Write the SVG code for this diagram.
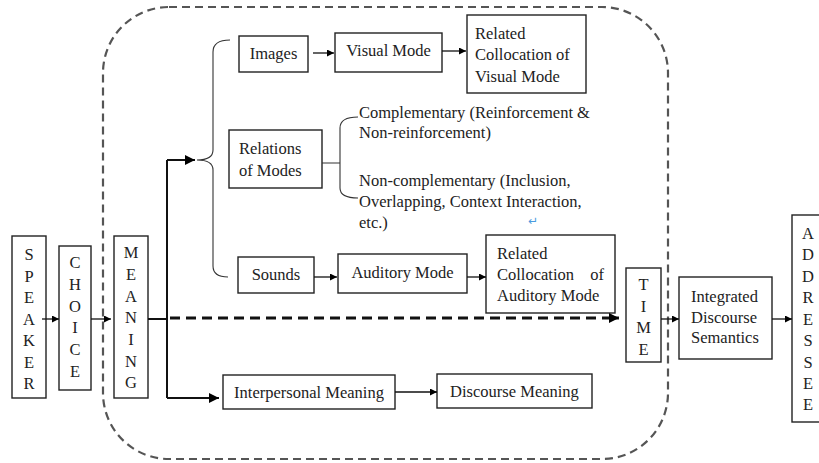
<svg xmlns="http://www.w3.org/2000/svg" width="819" height="463" viewBox="0 0 819 463" font-family="'Liberation Serif', 'DejaVu Serif', serif">
<defs>
<marker id="ah" viewBox="0 0 10 10" refX="10" refY="5" markerWidth="9" markerHeight="7" markerUnits="userSpaceOnUse" orient="auto"><path d="M0,0 L10,5 L0,10 z" fill="#000"/></marker>
<marker id="ahb" viewBox="0 0 10 10" refX="10" refY="5" markerWidth="12" markerHeight="10" markerUnits="userSpaceOnUse" orient="auto"><path d="M0,0 L10,5 L0,10 z" fill="#000"/></marker>
</defs>
<style>
.box{fill:#fff;stroke:#222;stroke-width:1.4}
text{font-family:'Liberation Serif','DejaVu Serif',serif;font-size:16.5px;fill:#222}
.c{text-anchor:middle}
.ln{fill:none;stroke:#111;stroke-width:1.3}
.th{fill:none;stroke:#111;stroke-width:2}
.br{fill:none;stroke:#333;stroke-width:1.1}
</style>
<rect x="103" y="7" width="565" height="452" rx="66" ry="66" fill="none" stroke="#555" stroke-width="2.2" stroke-dasharray="8 5"/>

<g id="speaker"><rect class="box" x="12" y="236" width="34" height="162"/>
<text class="c" x="29" y="260">S</text><text class="c" x="29" y="282">P</text><text class="c" x="29" y="303">E</text><text class="c" x="29" y="325">A</text><text class="c" x="29" y="346">K</text><text class="c" x="29" y="368">E</text><text class="c" x="29" y="389">R</text></g>
<g id="choice"><rect class="box" x="59" y="246" width="32" height="144"/>
<text class="c" x="75" y="268">C</text><text class="c" x="75" y="290">H</text><text class="c" x="75" y="312">O</text><text class="c" x="75" y="333">I</text><text class="c" x="75" y="355">C</text><text class="c" x="75" y="377">E</text></g>
<g id="meaning"><rect class="box" x="114" y="236" width="34" height="162"/>
<text class="c" x="131" y="258">M</text><text class="c" x="131" y="280">E</text><text class="c" x="131" y="302">A</text><text class="c" x="131" y="323">N</text><text class="c" x="131" y="345">I</text><text class="c" x="131" y="367">N</text><text class="c" x="131" y="388">G</text></g>

<g id="images"><rect class="box" x="239" y="36" width="69" height="36"/><text class="c" x="273.5" y="59">Images</text></g>
<g id="visual-mode"><rect class="box" x="335" y="33" width="107" height="39"/><text class="c" x="388.5" y="56">Visual Mode</text></g>
<g id="related-visual"><rect class="box" x="467" y="15" width="119" height="78"/>
<text x="475" y="39">Related</text><text x="475" y="60">Collocation of</text><text x="475" y="82">Visual Mode</text></g>

<g id="relations"><rect class="box" x="229" y="130" width="93" height="58"/>
<text x="239" y="154">Relations</text><text x="239" y="176">of Modes</text></g>
<g id="relation-types">
<text x="359" y="118">Complementary (Reinforcement &amp;</text>
<text x="359" y="138">Non-reinforcement)</text>
<text x="359" y="186">Non-complementary (Inclusion,</text>
<text x="359" y="207">Overlapping, Context Interaction,</text>
<text x="359" y="228">etc.)</text>
<text x="528" y="225" style="font-family:'DejaVu Sans',sans-serif;font-size:12px;fill:#4a9be0">↵</text>
</g>

<g id="sounds"><rect class="box" x="238" y="257" width="76" height="36"/><text class="c" x="276" y="280">Sounds</text></g>
<g id="auditory-mode"><rect class="box" x="338" y="254" width="129" height="39"/><text class="c" x="402.5" y="278">Auditory Mode</text></g>
<g id="related-auditory"><rect class="box" x="486" y="235" width="129" height="78"/>
<text x="497" y="259">Related</text><text x="497" y="280">Collocation</text><text x="604" y="280" text-anchor="end">of</text><text x="497" y="301">Auditory Mode</text></g>

<g id="interpersonal"><rect class="box" x="223" y="375" width="172" height="34"/><text class="c" x="309" y="398">Interpersonal Meaning</text></g>
<g id="discourse"><rect class="box" x="437" y="374" width="155" height="34"/><text class="c" x="514.5" y="397">Discourse Meaning</text></g>

<g id="time"><rect class="box" x="626" y="268" width="35" height="94"/>
<text class="c" x="643.5" y="290">T</text><text class="c" x="643.5" y="312">I</text><text class="c" x="643.5" y="333">M</text><text class="c" x="643.5" y="355">E</text></g>
<g id="integrated"><rect class="box" x="679" y="277" width="93" height="82"/>
<text x="691" y="302">Integrated</text><text x="691" y="323">Discourse</text><text x="691" y="343">Semantics</text></g>
<g id="addressee"><rect class="box" x="792" y="215" width="40" height="207"/>
<text class="c" x="808" y="239">A</text><text class="c" x="808" y="260">D</text><text class="c" x="808" y="282">D</text><text class="c" x="808" y="303">R</text><text class="c" x="808" y="325">E</text><text class="c" x="808" y="346">S</text><text class="c" x="808" y="368">S</text><text class="c" x="808" y="389">E</text><text class="c" x="808" y="410">E</text></g>

<g id="connectors">
<line class="ln" x1="42" y1="319" x2="59" y2="319" marker-end="url(#ah)"/>
<line class="ln" x1="91" y1="319" x2="111" y2="319" marker-end="url(#ah)"/>
<path class="th" d="M148,319 H167 M167,160 V398"/>
<line class="th" x1="167" y1="160" x2="195" y2="160" marker-end="url(#ahb)"/>
<line class="th" x1="167" y1="398" x2="219" y2="398" marker-end="url(#ahb)"/>
<line x1="170" y1="318" x2="606" y2="318" stroke="#111" stroke-width="3" stroke-dasharray="10 6"/>
<line x1="606" y1="318" x2="619" y2="318" stroke="#111" stroke-width="3" marker-end="url(#ahb)"/>
<path class="br" d="M230,40 Q213,40 213,52 V150 Q213,160 197,160 Q213,160 213,170 V266 Q213,277 228,277"/>
<path class="br" d="M322,163 H340 M358,117 Q340,117 340,128 V188 Q340,198 358,198"/>
<line class="ln" x1="313" y1="53" x2="334" y2="53" marker-end="url(#ah)"/>
<line class="ln" x1="442" y1="51" x2="466" y2="51" marker-end="url(#ah)"/>
<line class="ln" x1="314" y1="277" x2="337" y2="277" marker-end="url(#ah)"/>
<line class="ln" x1="467" y1="277" x2="486" y2="277" marker-end="url(#ah)"/>
<line class="ln" x1="395" y1="392" x2="437" y2="392" marker-end="url(#ah)"/>
<line class="ln" x1="661" y1="319" x2="679" y2="319" marker-end="url(#ah)"/>
<line class="ln" x1="772" y1="319" x2="792" y2="319" marker-end="url(#ah)"/>
</g>
</svg>
